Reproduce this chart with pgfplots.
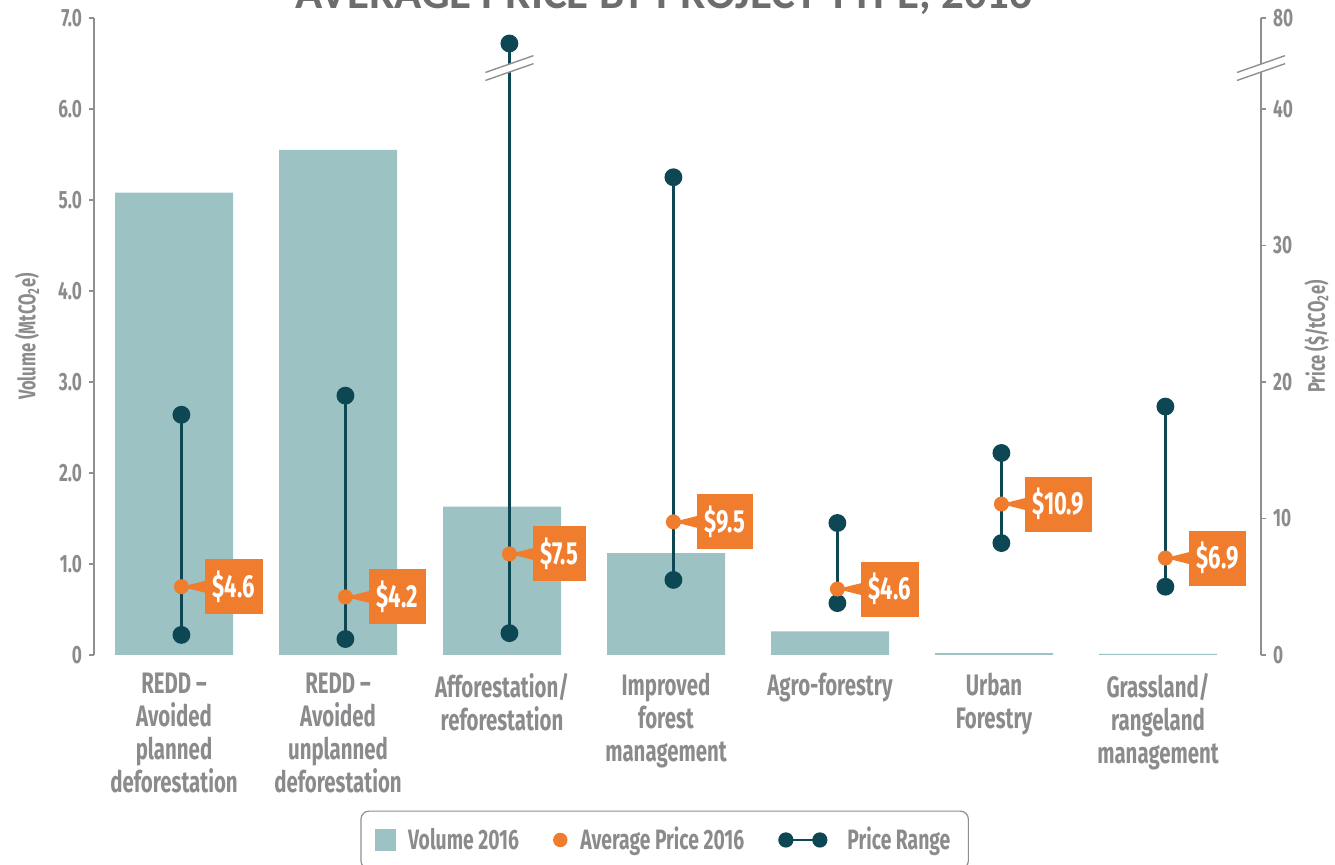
\documentclass[border=0pt]{standalone}
\usepackage{fontspec}
\usepackage{pgfplots}
\pgfplotsset{compat=1.18}
\setmainfont{Fira Sans}
\newfontfamily\din{Fira Sans}[FakeStretch=0.69]
\newfontfamily\titlefont{Carlito}

\definecolor{barcol}{HTML}{9DC2C4}
\definecolor{dark}{HTML}{0C4753}
\definecolor{orng}{HTML}{F07C2E}
\definecolor{txtgray}{HTML}{8B8B8D}
\definecolor{axgray}{HTML}{8F8F8F}
\definecolor{titlegray}{HTML}{6D6D6D}

% orange dot with the little pointer towards the price tag
\pgfdeclareplotmark{tag}{%
  \pgfpathcircle{\pgfpointorigin}{3.75pt}\pgfusepathqfill
  \pgfpathmoveto{\pgfpoint{0pt}{0pt}}%
  \pgfpathlineto{\pgfpoint{12pt}{3pt}}%
  \pgfpathlineto{\pgfpoint{12pt}{-3pt}}%
  \pgfpathclose\pgfusepathqfill}

\begin{document}
\begin{tikzpicture}
\pgfplotsset{
  every axis/.append style={
    scale only axis, width=583.5pt, height=318.5pt,
    xmin=-0.488, xmax=6.628,
    tick align=outside, major tick length=2.5pt,
    ticklabel style={font=\din\bfseries\fontsize{12.5}{12.5}\selectfont, text=txtgray},
    label style={font=\din\bfseries\fontsize{12}{12}\selectfont, text=txtgray},
    clip=false,
  }
}
\begin{axis}[
  name=vol,
  ymin=0, ymax=7,
  axis y line*=left, axis x line*=bottom,
  x axis line style={draw=none},
  y axis line style={axgray, line width=0.75pt},
  xtick={0,...,6}, xtick style={draw=none},
  xticklabels={{REDD –\\Avoided\\planned\\deforestation},
    {REDD –\\Avoided\\unplanned\\deforestation},
    {Afforestation/\\reforestation},
    {Improved\\forest\\management},
    {Agro-forestry},
    {Urban\\Forestry},
    {Grassland/\\rangeland\\management}},
  xticklabel style={font=\din\bfseries\fontsize{14.8}{16.5}\selectfont, align=center, anchor=north, yshift=-3pt},
  ytick={0,...,7},
  yticklabels={0,1.0,2.0,3.0,4.0,5.0,6.0,7.0},
  ytick style={axgray, line width=0.75pt},
  ylabel={Volume (MtCO\textsubscript{2}e)},
  ylabel style={at={(axis description cs:-0.0574,0.5)}, anchor=center},
  title={AVERAGE PRICE BY PROJECT TYPE, 2016},
  title style={at={(axis description cs:0.4884,1)}, anchor=base, yshift=-1.5pt, inner sep=0pt,
    font=\titlefont\bfseries\fontsize{22.5}{22.5}\selectfont, text=titlegray},
]
\addplot[ybar, bar width=59pt, fill=barcol, draw=none] coordinates {
  (0,5.08) (1,5.55) (2,1.63) (3,1.12) (4,0.26) (5,0.02) (6,0.012)
};
\end{axis}

\begin{axis}[
  ymin=0, ymax=46.67,
  axis y line*=right, axis x line=none,
  y axis line style={axgray, line width=0.75pt},
  ytick={0,10,20,30,40,46.67},
  yticklabels={0,10,20,30,40,80},
  ytick style={axgray, line width=0.75pt},
  ylabel={Price (\$/tCO\textsubscript{2}e)},
  ylabel style={at={(axis description cs:1.0475,0.5)}, anchor=center},
  legend columns=3,
  legend style={at={(axis description cs:0.489,-0.2904)}, anchor=center,
    draw=axgray, line width=0.6pt, rounded corners=4pt,
    font=\din\bfseries\fontsize{14}{14}\selectfont, text=txtgray,
    inner xsep=7pt, inner ysep=6pt,
    /tikz/every even column/.append style={column sep=15pt}},
]
% price range (low, high); the afforestation top sits above the axis break
\addplot[dark, line width=1.4pt, mark=*, mark size=3.75pt, unbounded coords=jump, forget plot]
coordinates {
  (0.045,1.47) (0.045,17.6) (0.5,nan)
  (1.045,1.17) (1.045,19.0) (1.5,nan)
  (2.045,1.60) (2.045,44.8) (2.5,nan)
  (3.045,5.50) (3.045,35.0) (3.5,nan)
  (4.045,3.80) (4.045,9.67) (4.5,nan)
  (5.045,8.20) (5.045,14.8) (5.5,nan)
  (6.045,5.00) (6.045,18.2)
};
% average price
\addplot[only marks, mark=tag, color=orng, forget plot,
  nodes near coords, point meta=explicit symbolic,
  every node near coord/.append style={anchor=west, xshift=11.5pt, fill=orng, text=white,
    font=\din\bfseries\fontsize{16}{16}\selectfont, inner xsep=4pt, minimum height=27.5pt}]
coordinates {
  (0.045,5.00) [\$4.6]
  (1.045,4.25) [\$4.2]
  (2.045,7.40) [\$7.5]
  (3.045,9.75) [\$9.5]
  (4.045,4.83) [\$4.6]
  (5.045,11.06) [\$10.9]
  (6.045,7.10) [\$6.9]
};
% axis breaks
\fill[white] ([xshift=-4pt,yshift=-3.4pt]axis cs:2.045,43) -- ([xshift=4pt,yshift=-0.6pt]axis cs:2.045,43)
  -- ([xshift=4pt,yshift=3.4pt]axis cs:2.045,43) -- ([xshift=-4pt,yshift=0.6pt]axis cs:2.045,43) -- cycle;
\draw[axgray, line width=0.7pt] ([xshift=-12pt,yshift=-2.2pt]axis cs:2.045,43) -- ([xshift=12pt,yshift=6.2pt]axis cs:2.045,43);
\draw[axgray, line width=0.7pt] ([xshift=-12pt,yshift=-6.2pt]axis cs:2.045,43) -- ([xshift=12pt,yshift=2.2pt]axis cs:2.045,43);
\fill[white] ([xshift=-4pt,yshift=-3.4pt]axis cs:6.628,43) -- ([xshift=4pt,yshift=-0.6pt]axis cs:6.628,43)
  -- ([xshift=4pt,yshift=3.4pt]axis cs:6.628,43) -- ([xshift=-4pt,yshift=0.6pt]axis cs:6.628,43) -- cycle;
\draw[axgray, line width=0.7pt] ([xshift=-12pt,yshift=-2.2pt]axis cs:6.628,43) -- ([xshift=12pt,yshift=6.2pt]axis cs:6.628,43);
\draw[axgray, line width=0.7pt] ([xshift=-12pt,yshift=-6.2pt]axis cs:6.628,43) -- ([xshift=12pt,yshift=2.2pt]axis cs:6.628,43);

\addlegendimage{legend image code/.code={\fill[barcol, sharp corners] (0pt,-5pt) rectangle (10pt,5pt); \path (14pt,0pt);}}
\addlegendentry{Volume 2016}
\addlegendimage{legend image code/.code={\fill[orng] (3.3pt,0pt) circle (3.3pt); \path (11pt,0pt);}}
\addlegendentry{Average Price 2016}
\addlegendimage{legend image code/.code={\draw[dark, line width=1.4pt, sharp corners] (3.5pt,0pt) -- (20.5pt,0pt);
  \fill[dark] (3.5pt,0pt) circle (3.5pt); \fill[dark] (20.5pt,0pt) circle (3.5pt); \path (32pt,0pt);}}
\addlegendentry{Price Range}
\end{axis}
\pgfresetboundingbox
\path ([xshift=-47pt,yshift=-105pt]vol.south west) rectangle ([xshift=37pt,yshift=9pt]vol.north east);
\end{tikzpicture}
\end{document}
